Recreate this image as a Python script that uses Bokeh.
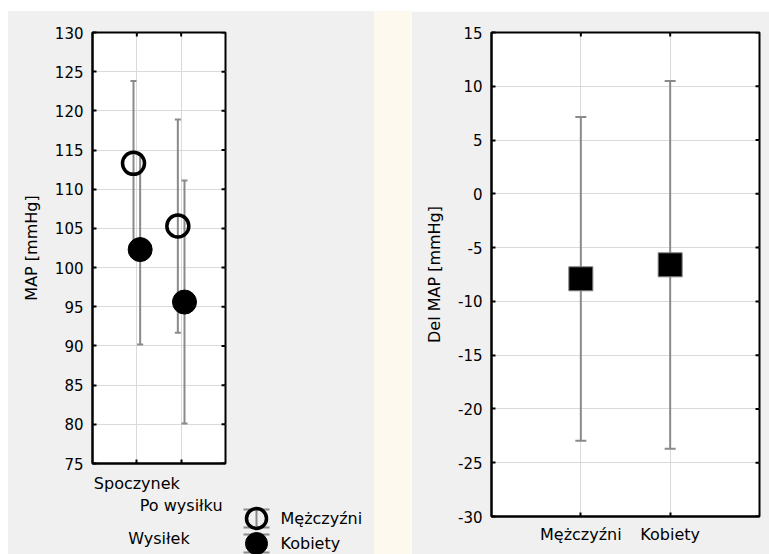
import numpy as np
from bokeh.plotting import figure
from bokeh.models import (ColumnDataSource, Range1d, LinearAxis, FixedTicker,
                          Whisker, TeeHead, Spacer)
from bokeh.layouts import row, column
from bokeh.core.properties import value
from bokeh.embed import file_html
from bokeh.resources import INLINE

# --- data -------------------------------------------------------------------
# Mean arterial pressure by condition, with confidence half-widths
conditions = ["Spoczynek", "Po wysiłku"]
men_map = [113.3, 105.3]
men_ci = [10.5, 13.6]
women_map = [102.3, 95.6]
women_ci = [12.1, 15.5]
map_ticks = [75, 80, 85, 90, 95, 100, 105, 110, 115, 120, 125, 130]

# Change of MAP (after minus before exercise) by sex
sexes = ["Mężczyźni", "Kobiety"]
del_map = [-7.9, -6.6]
del_ci = [15.05, 17.1]
del_ticks = [-30, -25, -20, -15, -10, -5, 0, 5, 10, 15]

series_labels = ["Mężczyźni", "Kobiety"]

# --- style ------------------------------------------------------------------
FONT = "DejaVu Sans"
PANEL = "#f0f0f0"
STRIP = "#fef9ee"
GRID = "#dadada"
BAR = "#8a8a8a"
TICK_LEN = 4


def style_axis(ax, size="15px"):
    ax.axis_line_color = "black"
    ax.axis_line_width = 2
    ax.major_tick_in = TICK_LEN
    ax.major_tick_out = 0
    ax.major_tick_line_color = "black"
    ax.major_tick_line_width = 2
    ax.minor_tick_line_color = None
    ax.major_label_text_font = FONT
    ax.major_label_text_font_size = size
    ax.major_label_text_color = "black"
    ax.axis_label_text_font = FONT
    ax.axis_label_text_font_size = "16px"
    ax.axis_label_text_font_style = "normal"
    ax.axis_label_text_color = "black"


def base_figure(width, height, xr, yr, borders):
    left, right, top, bottom = borders
    p = figure(width=width, height=height, x_range=xr, y_range=yr,
               output_backend="svg", toolbar_location=None,
               min_border_left=left, min_border_right=right,
               min_border_top=top, min_border_bottom=bottom,
               background_fill_color="white", border_fill_color=PANEL,
               outline_line_color="black", outline_line_width=2)
    p.xgrid.grid_line_color = GRID
    p.ygrid.grid_line_color = GRID
    return p


def inner_ticks(p, xticks, yticks):
    # short inward ticks along the top and right edges of the frame
    xmax, ymax = p.x_range.end, p.y_range.end
    p.ray(x=list(xticks), y=[ymax] * len(xticks), length=TICK_LEN,
          length_units="screen", angle=-np.pi / 2,
          line_color="black", line_width=2)
    p.ray(x=[xmax] * len(yticks), y=list(yticks), length=TICK_LEN,
          length_units="screen", angle=np.pi,
          line_color="black", line_width=2)


def add_whiskers(p, src, head):
    w = Whisker(base="x", upper="hi", lower="lo", source=src,
                dimension="height", line_color=BAR, line_width=2,
                upper_head=TeeHead(size=head, line_color=BAR, line_width=2),
                lower_head=TeeHead(size=head, line_color=BAR, line_width=2),
                level="underlay")
    p.add_layout(w)


def group_source(xs, means, cis):
    m = np.asarray(means, dtype=float)
    c = np.asarray(cis, dtype=float)
    return ColumnDataSource(dict(x=xs, y=m, lo=m - c, hi=m + c))


# --- left panel: MAP by condition --------------------------------------------
pos = np.arange(1, len(conditions) + 1)
shift = 0.075

src_men = group_source(pos - shift, men_map, men_ci)
src_women = group_source(pos + shift, women_map, women_ci)

left = base_figure(224, 543, Range1d(0, len(conditions) + 1),
                   Range1d(map_ticks[0], map_ticks[-1]), (84, 7, 21, 91))
left.xgrid.ticker = FixedTicker(ticks=list(pos))
left.ygrid.ticker = FixedTicker(ticks=map_ticks)

yax = left.yaxis[0]
yax.ticker = FixedTicker(ticks=map_ticks)
style_axis(yax)
yax.major_label_standoff = 9
yax.axis_label = "MAP [mmHg]"
yax.axis_label_standoff = 11

# two stacked bottom axes give the staggered category labels
xa = left.xaxis[0]
xa.ticker = FixedTicker(ticks=list(pos))
style_axis(xa, "16px")
xa.major_label_overrides = {int(p): (c if i % 2 == 0 else "")
                            for i, (p, c) in enumerate(zip(pos, conditions))}
xa.major_label_standoff = 10

xb = LinearAxis(ticker=FixedTicker(ticks=list(pos[1::2])))
style_axis(xb, "16px")
xb.axis_line_color = None
xb.major_tick_line_color = None
xb.major_label_overrides = {int(p): c for p, c in zip(pos[1::2], conditions[1::2])}
xb.major_label_standoff = 0
xb.axis_label = "Wysiłek"
xb.axis_label_standoff = 11
left.add_layout(xb, "below")

inner_ticks(left, pos, map_ticks)

add_whiskers(left, src_men, 6)
add_whiskers(left, src_women, 6)
left.scatter("x", "y", source=src_men, marker="circle", size=22,
             fill_alpha=0, line_color="black", line_width=3.5)
left.scatter("x", "y", source=src_women, marker="circle", size=24,
             fill_color="black", line_color="black", line_width=1)

# --- legend (drawn in its own small panel beside the left axis) --------------
leg = figure(width=142, height=56, x_range=Range1d(0, 142), y_range=Range1d(56, 0),
             output_backend="svg", toolbar_location=None, min_border=0,
             x_axis_type=None, y_axis_type=None,
             background_fill_color=PANEL, border_fill_color=PANEL,
             outline_line_color=None)
rows_y = np.array([20.0, 45.0])
sym_x = 24
cap_half = 13
bar_half = 9
leg.segment(x0=sym_x, y0=rows_y - bar_half, x1=sym_x, y1=rows_y + bar_half,
            line_color=BAR, line_width=2)
for dy in (-bar_half, bar_half):
    leg.segment(x0=sym_x - cap_half, y0=rows_y + dy, x1=sym_x + cap_half,
                y1=rows_y + dy, line_color=BAR, line_width=2)
leg.scatter(x=[sym_x], y=rows_y[:1], marker="circle", size=20,
            fill_alpha=0, line_color="black", line_width=3.5)
leg.scatter(x=[sym_x], y=rows_y[1:], marker="circle", size=22,
            fill_color="black", line_color="black")
leg.text(x=[48, 48], y=rows_y, text=series_labels, text_font=value(FONT),
         text_font_size="16px", text_baseline="middle", text_color="black")

gap = Spacer(width=142, height=487, styles={"background-color": PANEL})
left_panel = row(left, column(gap, leg, spacing=0), spacing=0,
                 styles={"background-color": PANEL})

# --- right panel: change of MAP by sex ---------------------------------------
spos = np.arange(1, len(sexes) + 1)
src_del = group_source(spos, del_map, del_ci)

right = base_figure(358, 543, Range1d(0, len(sexes) + 1),
                    Range1d(del_ticks[0], del_ticks[-1]), (80, 10, 21, 38))
right.xgrid.ticker = FixedTicker(ticks=list(spos))
right.ygrid.ticker = FixedTicker(ticks=del_ticks)

ry = right.yaxis[0]
ry.ticker = FixedTicker(ticks=del_ticks)
style_axis(ry)
ry.major_label_overrides = {t: str(t) for t in del_ticks}
ry.major_label_standoff = 9
ry.axis_label = "Del MAP [mmHg]"
ry.axis_label_standoff = 11

rx = right.xaxis[0]
rx.ticker = FixedTicker(ticks=list(spos))
style_axis(rx, "16px")
rx.major_label_overrides = {int(p): s for p, s in zip(spos, sexes)}
rx.major_label_standoff = 8

inner_ticks(right, spos, del_ticks)

add_whiskers(right, src_del, 11)
right.scatter("x", "y", source=src_del, marker="square", size=24,
              fill_color="black", line_color="#808080", line_width=1)

strip = Spacer(width=37, height=543, styles={"background-color": STRIP})
right_panel = row(strip, right, spacing=0)

# the two panels are independent roots laid side by side, so each keeps
# its own plot frame
page_css = """
{% block postamble %}
<style>
  body {
    display: flex;
    flex-direction: row;
    align-items: flex-start;
    margin: 0;
    padding: 11px 0 0 8px;
    overflow: hidden;
    background: white;
  }
</style>
{% endblock %}
"""

open("out.html", "w").write(file_html([left_panel, right_panel], INLINE,
                                      template=page_css))
